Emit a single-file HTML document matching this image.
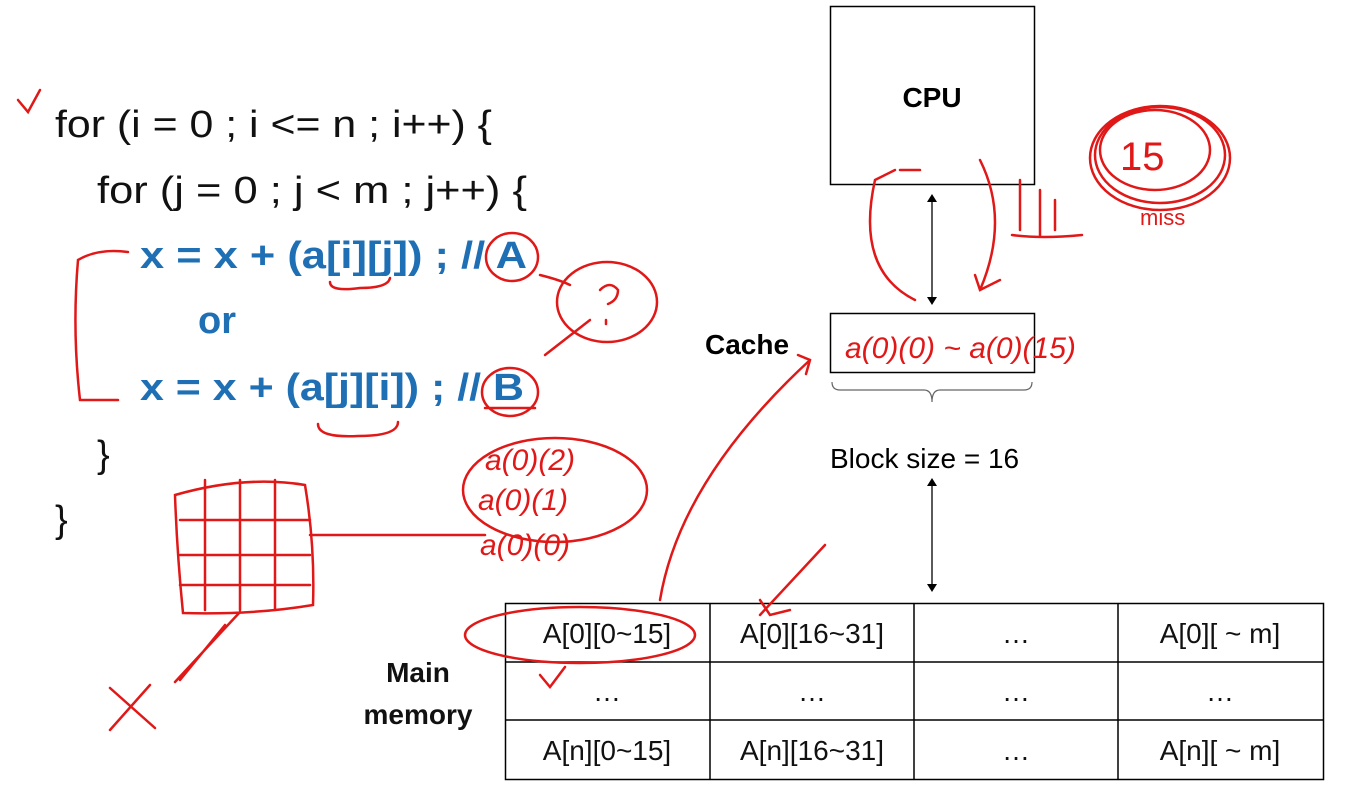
<!DOCTYPE html>
<html><head><meta charset="utf-8"><style>
html,body{margin:0;padding:0;background:#fff;}
svg{display:block;}
</style></head><body>
<svg width="1358" height="808" viewBox="0 0 1358 808" xmlns="http://www.w3.org/2000/svg" font-family="Liberation Sans, sans-serif">
<rect width="1358" height="808" fill="#fff"/>
<!-- code -->
<g font-size="38" fill="#111">
<text x="55" y="137" textLength="437" lengthAdjust="spacingAndGlyphs">for (i = 0 ; i &lt;= n ; i++) {</text>
<text x="97" y="203" textLength="430" lengthAdjust="spacingAndGlyphs">for (j = 0 ; j &lt; m ; j++) {</text>
<text x="97" y="467">}</text>
<text x="55" y="532">}</text>
</g>
<g font-size="38" fill="#1f6fb5" font-weight="bold">
<text x="140" y="268" textLength="387" lengthAdjust="spacingAndGlyphs">x = x + (a[i][j]) ; // A</text>
<text x="198" y="333">or</text>
<text x="140" y="400" textLength="384" lengthAdjust="spacingAndGlyphs">x = x + (a[j][i]) ; // B</text>
</g>
<!-- CPU / cache -->
<rect x="830.5" y="6.5" width="204" height="178" fill="none" stroke="#000" stroke-width="1.5"/>
<text x="932" y="107" font-size="28" font-weight="bold" text-anchor="middle">CPU</text>
<rect x="830.5" y="313.5" width="204" height="59" fill="none" stroke="#000" stroke-width="1.5"/>
<text x="705" y="354" font-size="28" font-weight="bold">Cache</text>
<path d="M832 382 q0 8 8 8 h84 q8 0 8 12 q0-12 8-12 h84 q8 0 8-8" fill="none" stroke="#666" stroke-width="1.2"/>
<text x="830" y="468" font-size="28">Block size = 16</text>
<g stroke="#000" stroke-width="1.3">
<line x1="932" y1="196" x2="932" y2="302"/><line x1="932" y1="480" x2="932" y2="590"/>
</g>
<g fill="#000">
<path d="M927 202 l5-8 5 8z"/><path d="M927 297 l5 8 5-8z"/>
<path d="M927 486 l5-8 5 8z"/><path d="M927 584 l5 8 5-8z"/>
</g>
<!-- table -->
<g stroke="#000" stroke-width="1.5" fill="none">
<rect x="505.5" y="603.5" width="818" height="176"/>
<line x1="505" y1="662" x2="1323" y2="662"/><line x1="505" y1="720" x2="1323" y2="720"/>
<line x1="710" y1="603" x2="710" y2="779"/><line x1="914" y1="603" x2="914" y2="779"/><line x1="1118" y1="603" x2="1118" y2="779"/>
</g>
<g font-size="28" text-anchor="middle" fill="#111">
<text x="607" y="643">A[0][0~15]</text><text x="812" y="643">A[0][16~31]</text><text x="1016" y="643">…</text><text x="1220" y="643">A[0][ ~ m]</text>
<text x="607" y="701">…</text><text x="812" y="701">…</text><text x="1016" y="701">…</text><text x="1220" y="701">…</text>
<text x="607" y="760">A[n][0~15]</text><text x="812" y="760">A[n][16~31]</text><text x="1016" y="760">…</text><text x="1220" y="760">A[n][ ~ m]</text>
<text x="418" y="682" font-weight="bold">Main</text><text x="418" y="724" font-weight="bold">memory</text>
</g>
<!-- red annotations -->
<g stroke="#e01818" stroke-width="2.5" fill="none" stroke-linecap="round">
<path d="M18 100 l10 12 l12-22"/>
<path d="M128 252 q-30-4-50 8 q-6 70 2 140 l38 0"/>
<path d="M330 282 q0 10 30 6 q28 0 30-10"/><path d="M318 424 q0 14 40 12 q40 0 40-14"/>
<ellipse cx="512" cy="257" rx="26" ry="24"/><ellipse cx="510" cy="392" rx="28" ry="24"/>
<path d="M485 408 h50"/>
<ellipse cx="607" cy="302" rx="50" ry="40"/><path d="M540 275 q20 5 30 10"/><path d="M590 320 l-45 35"/>
<path d="M600 290 q10-10 18 0 q0 10-10 14 M606 320 v4"/>
<ellipse cx="555" cy="490" rx="92" ry="52"/>
<text x="485" y="470" font-size="30" fill="#e01818" stroke="none" font-style="italic">a(0)(2)</text>
<text x="478" y="510" font-size="30" fill="#e01818" stroke="none" font-style="italic">a(0)(1)</text>
<text x="480" y="555" font-size="30" fill="#e01818" stroke="none" font-style="italic">a(0)(0)</text>
<path d="M175 495 q70-20 130-10 q10 60 8 120 q-60 10-130 8 q-6-60-8-118z"/>
<path d="M205 480 v130 M240 480 v130 M275 480 v130 M180 520 h130 M180 555 h130 M180 585 h130"/>
<path d="M310 535 h175"/>
<path d="M240 612 l-65 70 M225 625 l-45 55"/>
<path d="M110 688 l45 40 M150 685 l-40 45"/>
<ellipse cx="580" cy="635" rx="115" ry="28"/><path d="M540 675 l10 12 l15-20"/>
<path d="M660 600 q20-120 150-240 M798 355 l12 5 -4 14"/>
<path d="M760 615 l65-70 M760 600 l10 15 l20-5"/>
<path d="M915 300 q-60-30-40-120 l20-10 M900 170 l20 0"/>
<path d="M980 160 q30 60 0 130 M975 275 l5 15 20-10"/>
<path d="M1020 180 v50 M1040 190 v45 M1055 200 v30 M1012 235 q30 4 70 0"/>
<ellipse cx="1160" cy="155" rx="65" ry="48"/><ellipse cx="1155" cy="150" rx="55" ry="40"/><ellipse cx="1160" cy="158" rx="70" ry="52"/>
<text x="1120" y="170" font-size="40" fill="#e01818" stroke="none">15</text>
<text x="1140" y="225" font-size="22" fill="#e01818" stroke="none" stroke-width="1">miss</text>
<text x="845" y="358" font-size="30" fill="#e01818" stroke="none" font-style="italic">a(0)(0) ~ a(0)(15)</text>
</g>
</svg>
</body></html>
